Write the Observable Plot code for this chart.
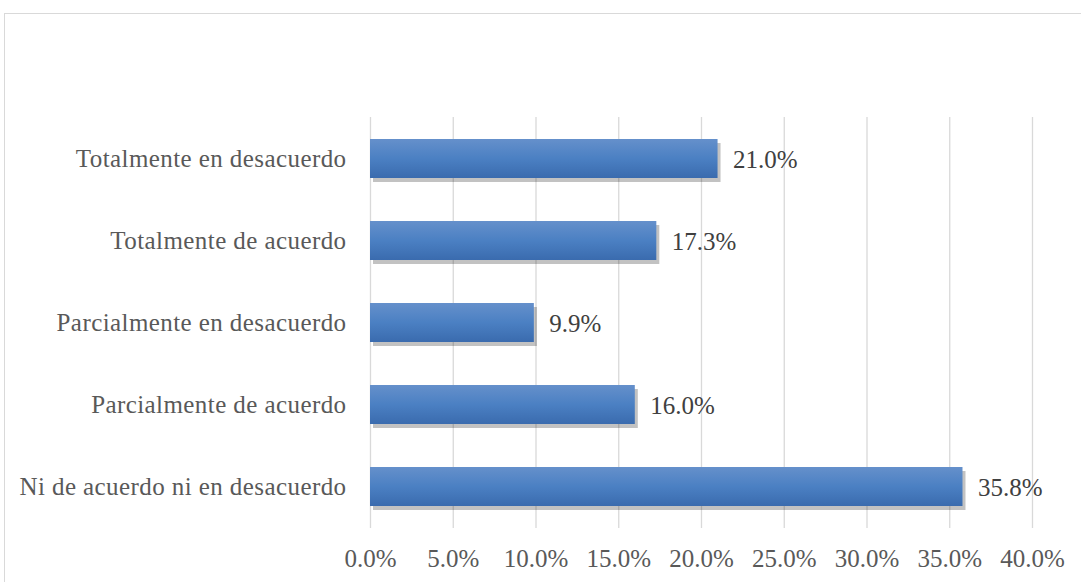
<!DOCTYPE html>
<html>
<head>
<meta charset="utf-8">
<script src="https://cdn.jsdelivr.net/npm/d3@7"></script>
<script src="https://cdn.jsdelivr.net/npm/@observablehq/plot@0.6"></script>
<style>
  html, body { margin: 0; padding: 0; background: #fff; overflow: hidden; }
  #wrap { position: relative; width: 1081px; height: 582px; }
  #frame { position: absolute; left: 4px; top: 13px; width: 1200px; height: 700px; border: 1px solid #d9d9d9; box-sizing: border-box; pointer-events: none; }
  #chart { position: absolute; left: 0; top: 0; }
</style>
</head>
<body>
<div id="wrap"><div id="frame"></div><div id="chart"></div></div>
<script>
const categories = [
  "Totalmente en desacuerdo",
  "Totalmente de acuerdo",
  "Parcialmente en desacuerdo",
  "Parcialmente de acuerdo",
  "Ni de acuerdo ni en desacuerdo"
];
const values = [0.210, 0.173, 0.099, 0.160, 0.358];
const xTicks = [0, 0.05, 0.10, 0.15, 0.20, 0.25, 0.30, 0.35, 0.40];

const data = categories.map((c, i) => ({category: c, value: values[i]}));
const font = "'Liberation Serif', serif";

const chart = Plot.plot({
  width: 1081,
  height: 582,
  marginTop: 117,
  marginBottom: 54,
  marginLeft: 370,
  marginRight: 49,
  style: {fontFamily: font, fontSize: "25px", color: "#595959", background: "transparent"},
  x: {domain: [0, 0.40], ticks: xTicks, tickFormat: d3.format(".1%"), tickSize: 0, tickPadding: 21, label: null, grid: false},
  y: {domain: categories, paddingInner: 0.53, paddingOuter: 0.265, tickSize: 0, tickPadding: 24, label: null},
  marks: [
    () => {
      const ns = "http://www.w3.org/2000/svg";
      const defs = document.createElementNS(ns, "defs");
      defs.innerHTML = `
        <linearGradient id="barGrad" x1="0" y1="0" x2="0" y2="1">
          <stop offset="0" stop-color="#6590cb"/>
          <stop offset="0.5" stop-color="#4b80c3"/>
          <stop offset="1" stop-color="#3a6bae"/>
        </linearGradient>
        <filter id="shadowBlur" x="-10%" y="-50%" width="120%" height="200%">
          <feGaussianBlur stdDeviation="2.4"/>
        </filter>`;
      return defs;
    },
    Plot.ruleX(xTicks, {stroke: "#d9d9d9", strokeWidth: 1.3}),
    Plot.barX(data, {x: "value", y: "category", fill: "#000", fillOpacity: 0.24, dx: 3, dy: 4, ariaLabel: "shadow"}),
    Plot.barX(data, {x: "value", y: "category", fill: "url(#barGrad)"}),
    Plot.text(data, {x: "value", y: "category", text: d => d3.format(".1%")(d.value), textAnchor: "start", dx: 15, dy: 1, fill: "#404040", fontSize: 25})
  ]
});
d3.select(chart).selectAll("g[aria-label='shadow']").attr("filter", "url(#shadowBlur)");
d3.select(chart).selectAll("g[aria-label^='y-axis'] text").attr("letter-spacing", "0.42px");
document.getElementById("chart").appendChild(chart);
</script>
</body>
</html>
